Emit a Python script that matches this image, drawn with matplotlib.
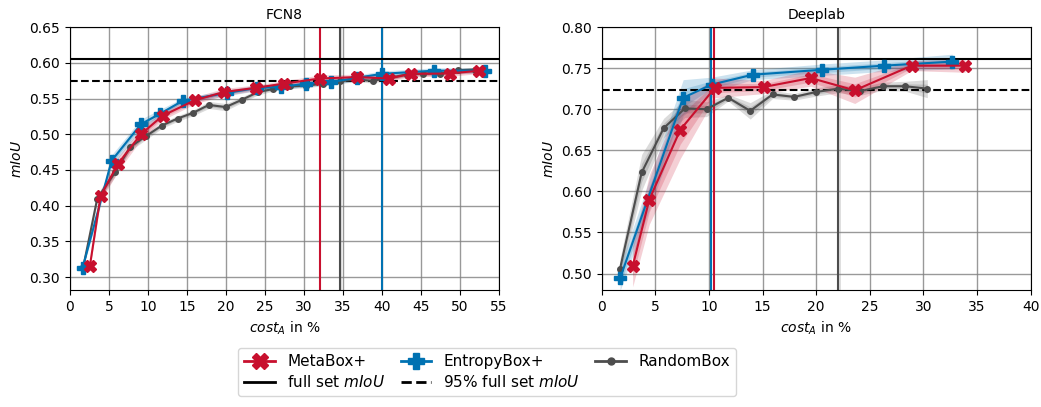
import numpy as np
import matplotlib
matplotlib.use("Agg")
import matplotlib.pyplot as plt

RED = "#c8102e"
BLUE = "#0072b2"
GRAY = "#4d4d4d"

# ---- FCN8 ----
fcn_meta_x = [2.56, 3.93, 6.2, 9.1, 11.9, 16.0, 19.7, 23.85, 27.5, 32.05, 36.8, 40.9, 43.7, 48.7, 52.5]
fcn_meta_y = [0.316, 0.414, 0.459, 0.500, 0.526, 0.5475, 0.559, 0.565, 0.571, 0.578, 0.580, 0.578, 0.5845, 0.585, 0.589]
fcn_meta_s = [0.004, 0.008, 0.010, 0.008, 0.006, 0.005, 0.005, 0.004, 0.004, 0.005, 0.004, 0.004, 0.004, 0.004, 0.004]

fcn_ent_x = [1.62, 5.34, 9.1, 11.6, 14.5, 20.2, 24.0, 27.05, 30.3, 33.5, 36.8, 40.0, 46.7, 53.2]
fcn_ent_y = [0.313, 0.463, 0.514, 0.529, 0.547, 0.558, 0.565, 0.566, 0.571, 0.573, 0.579, 0.5845, 0.589, 0.589]
fcn_ent_s = [0.003, 0.008, 0.007, 0.006, 0.004, 0.004, 0.004, 0.004, 0.004, 0.004, 0.004, 0.004, 0.004, 0.004]

fcn_rand_x = [1.7, 3.5, 5.8, 7.7, 9.7, 11.75, 13.8, 15.8, 17.8, 19.96, 22.0, 24.1, 26.1, 28.2, 30.3,
              32.5, 34.6, 36.75, 38.8, 41.0, 43.2, 45.3, 47.4, 49.8, 51.9]
fcn_rand_y = [0.314, 0.41, 0.447, 0.482, 0.497, 0.512, 0.522, 0.530, 0.541, 0.538, 0.548, 0.559, 0.5634,
              0.567, 0.568, 0.571, 0.574, 0.5766, 0.5747, 0.579, 0.5836, 0.585, 0.585, 0.5897, 0.5906]
fcn_rand_s = [0.004, 0.006, 0.006, 0.005, 0.005, 0.004, 0.004, 0.004, 0.005, 0.005, 0.004, 0.004, 0.003,
              0.003, 0.003, 0.003, 0.003, 0.003, 0.003, 0.003, 0.003, 0.003, 0.003, 0.003, 0.003]

fcn_full = 0.605
fcn_vlines = {"meta": 32.05, "ent": 40.0, "rand": 34.6}

# ---- Deeplab ----
dl_meta_x = [2.89, 4.44, 7.33, 10.56, 15.1, 19.5, 23.6, 28.9, 33.9]
dl_meta_y = [0.509, 0.590, 0.675, 0.726, 0.727, 0.738, 0.723, 0.753, 0.753]
dl_meta_s = [0.025, 0.03, 0.035, 0.012, 0.008, 0.01, 0.016, 0.006, 0.008]

dl_ent_x = [1.71, 7.6, 10.25, 14.07, 20.5, 26.3, 32.7]
dl_ent_y = [0.494, 0.714, 0.730, 0.742, 0.748, 0.753, 0.758]
dl_ent_s = [0.015, 0.022, 0.009, 0.006, 0.007, 0.007, 0.009]

dl_rand_x = [1.71, 3.73, 5.78, 7.76, 9.78, 11.8, 13.85, 15.93, 17.95, 20.0, 22.05, 24.1, 26.24, 28.3, 30.37]
dl_rand_y = [0.506, 0.623, 0.677, 0.701, 0.700, 0.714, 0.698, 0.718, 0.715, 0.721, 0.725, 0.722, 0.728, 0.728, 0.725]
dl_rand_s = [0.012, 0.022, 0.012, 0.011, 0.009, 0.004, 0.01, 0.005, 0.004, 0.005, 0.005, 0.005, 0.005, 0.006, 0.011]

dl_full = 0.761
dl_vlines = {"meta": 10.45, "ent": 10.22, "rand": 22.05}


def band(ax, x, y, s, color):
    x, y, s = np.array(x), np.array(y), np.array(s)
    ax.fill_between(x, y - s, y + s, color=color, alpha=0.2, lw=0, zorder=1)
    ax.fill_between(x, y - s / 2, y + s / 2, color=color, alpha=0.2, lw=0, zorder=1)


def panel(ax, data, full, vl, title, xlim, ylim, yticks):
    (mx, my, ms), (ex, ey, es), (rx, ry, rs) = data
    band(ax, rx, ry, rs, GRAY)
    band(ax, ex, ey, es, BLUE)
    band(ax, mx, my, ms, RED)
    ax.axvline(vl["rand"], color=GRAY, lw=1.5, zorder=2)
    ax.axvspan(vl["rand"] - 0.15, vl["rand"] + 0.25, color="gray", alpha=0.25, lw=0)
    ax.axvline(vl["ent"], color=BLUE, lw=1.5, zorder=2)
    ax.axvline(vl["meta"], color=RED, lw=1.5, zorder=2)
    ax.axhline(full, color="black", lw=1.5, zorder=2)
    ax.axhline(0.95 * full, color="black", lw=1.5, ls="--", zorder=2)
    ax.plot(rx, ry, color=GRAY, marker="o", ms=4, lw=1.5, zorder=3)
    ax.plot(ex, ey, color=BLUE, marker="P", ms=8, lw=1.5, zorder=4)
    ax.plot(mx, my, color=RED, marker="X", ms=8, lw=1.5, zorder=5)
    ax.set_xlim(*xlim)
    ax.set_ylim(*ylim)
    ax.set_yticks(yticks)
    ax.set_xticks(np.arange(xlim[0], xlim[1] + 1, 5))
    ax.grid(color="gray", lw=1, alpha=0.8)
    ax.set_axisbelow(True)
    ax.set_title(title, fontsize=10)
    ax.set_xlabel("$cost_A$ in %")
    ax.set_ylabel("$mIoU$")


fig = plt.figure(figsize=(10.41, 4.07), dpi=100)
ax1 = fig.add_axes([0.0672, 0.2875, 0.412, 0.646])
ax2 = fig.add_axes([0.578, 0.2875, 0.412, 0.646])

panel(ax1, [(fcn_meta_x, fcn_meta_y, fcn_meta_s), (fcn_ent_x, fcn_ent_y, fcn_ent_s),
            (fcn_rand_x, fcn_rand_y, fcn_rand_s)], fcn_full, fcn_vlines, "FCN8",
      (0, 55), (0.282, 0.65), np.arange(0.30, 0.651, 0.05))
panel(ax2, [(dl_meta_x, dl_meta_y, dl_meta_s), (dl_ent_x, dl_ent_y, dl_ent_s),
            (dl_rand_x, dl_rand_y, dl_rand_s)], dl_full, dl_vlines, "Deeplab",
      (0, 40), (0.48, 0.80), np.arange(0.50, 0.801, 0.05))

h_meta, = ax1.plot([], [], color=RED, marker="X", ms=11, lw=2)
h_ent, = ax1.plot([], [], color=BLUE, marker="P", ms=11, lw=2)
h_rand, = ax1.plot([], [], color=GRAY, marker="o", ms=5, lw=2)
h_full, = ax1.plot([], [], color="black", lw=2)
h_95, = ax1.plot([], [], color="black", lw=2, ls="--")
fig.legend([h_meta, h_full, h_ent, h_95, h_rand],
           ["MetaBox+", "full set $mIoU$", "EntropyBox+", "95% full set $mIoU$", "RandomBox"],
           ncol=3, loc="upper center", bbox_to_anchor=(0.468, 0.152), fontsize=11,
           borderaxespad=0.2, labelspacing=0.3, columnspacing=1.0)

fig.savefig("out.png", dpi=100)
